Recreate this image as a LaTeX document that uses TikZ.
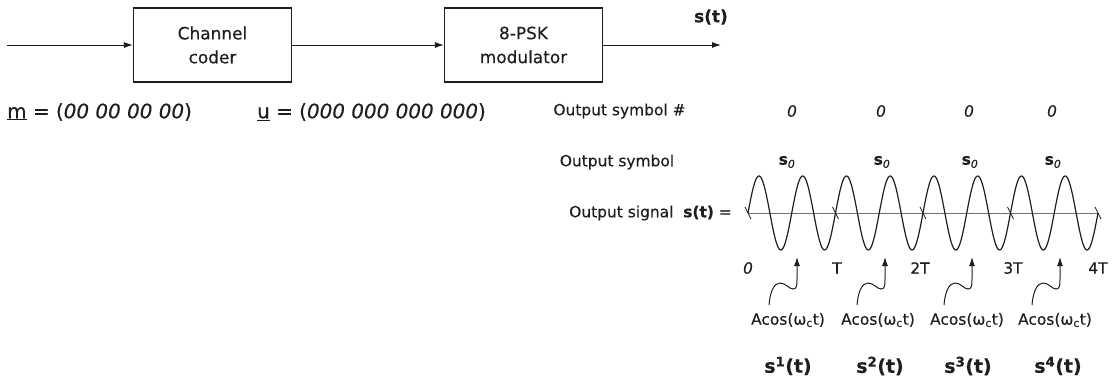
\documentclass[tikz,border=0pt]{standalone}
\usepackage{fontspec}
\setmainfont{DejaVu Sans}[FakeBold=0.35]
\usetikzlibrary{arrows.meta}
\definecolor{ink}{HTML}{1E1E1E}
\definecolor{axisgray}{HTML}{707070}
\begin{document}
\begin{tikzpicture}[x=1bp,y=-1bp,
  blk/.style={draw=ink,line width=1.1bp,minimum width=158bp,minimum height=74bp,align=center,
    font=\fontsize{17}{24}\selectfont,inner sep=0pt,text=ink},
  arr/.style={draw=ink,line width=1bp,-{Latex[length=9bp,width=6bp]}},
  lbl/.style={font=\fontsize{15.5}{19}\selectfont,inner sep=0pt,text=ink},
  seq/.style={font=\fontsize{20}{22}\selectfont,inner sep=0pt,text=ink,anchor=west},
  biglbl/.style={font=\fontsize{19}{24}\bfseries\selectfont,inner sep=0pt,text=ink},
  wave/.style={draw=ink,line width=1.2bp},
  axisline/.style={draw=axisgray,line width=0.9bp},
]
\useasboundingbox (0,0) rectangle (1115,381);

% block diagram
\node[blk] (cc) at (212.5,45) {Channel\\coder};
\node[blk] (psk) at (523.5,45) {8-PSK\\modulator};
\coordinate (in) at (7,45);
\coordinate (out) at (721,45);
\draw[arr] (in) -- (cc.west);
\draw[arr] (cc.east) -- (psk.west);
\draw[arr] (psk.east) -- (out);
\node[lbl,font=\fontsize{17}{19}\bfseries\selectfont] (st) at (711,17) {s(t)};

% sequences
\node[seq] (mv) at (7,112) {\underline{m} = (\textit{00 00 00 00})};
\node[seq] (uv) at (257,112) {\underline{u} = (\textit{000 000 000 000})};

% row labels
\node[lbl] (osn) at (619.5,111) {Output symbol \#};
\node[lbl] (os) at (617,162) {Output symbol};
\node[lbl,anchor=east] (osig) at (732,213) {Output signal\ \ \textbf{s(t)} =};

% symbol numbers and symbols
\foreach \xx [count=\i] in {792,881,969,1052}
  \node[lbl] (num\i) at (\xx,111) {\textit{0}};
\foreach \xx [count=\i] in {787,882,970,1053}
  \node[lbl] (sym\i) at (\xx,162) {\textbf{s}\textsubscript{\textit{0}}};

% time axis
\coordinate (a0) at (748,213);
\coordinate (a4) at (1098,213);
\draw[axisline] (a0) -- (a4);
\foreach \k in {0,...,4}
  \draw[draw=ink,line width=0.8bp] ({748+87.5*\k-3},207) -- ({748+87.5*\k+3},219);

% waveform
\draw[wave] plot[domain=0:350,samples=400] ({748+\x},{213-37*sin(\x*8.228571)});

% time labels
\node[lbl] (t0) at (748,268) {\textit{0}};
\node[lbl] (t1) at (837,268) {T};
\node[lbl] (t2) at (920,268) {2T};
\node[lbl] (t3) at (1013,268) {3T};
\node[lbl] (t4) at (1098,268) {4T};

% wavy arrows
\foreach \xx [count=\i] in {797,885,972,1060} {
  \coordinate (tip\i) at (\xx,257);
  \coordinate (tail\i) at (\xx-28,305);
  \draw[arr] (tail\i) .. controls (\xx-27,292) and (\xx-23,283) .. (\xx-17,283)
     .. controls (\xx-11,283) and (\xx-8,289) .. (\xx-4,289)
     .. controls (\xx-0.5,289) and (\xx,286) .. (\xx,279) -- (tip\i);
}

% component labels
\foreach \xx [count=\i] in {788,878,967,1055}
  \node[lbl] (ac\i) at (\xx,320) {Acos(ω\textsubscript{c}t)};
\foreach \xx [count=\i] in {788,880,968,1058}
  \node[biglbl] (sc\i) at (\xx,366) {s\textsuperscript{\i}(t)};
\end{tikzpicture}
\end{document}
